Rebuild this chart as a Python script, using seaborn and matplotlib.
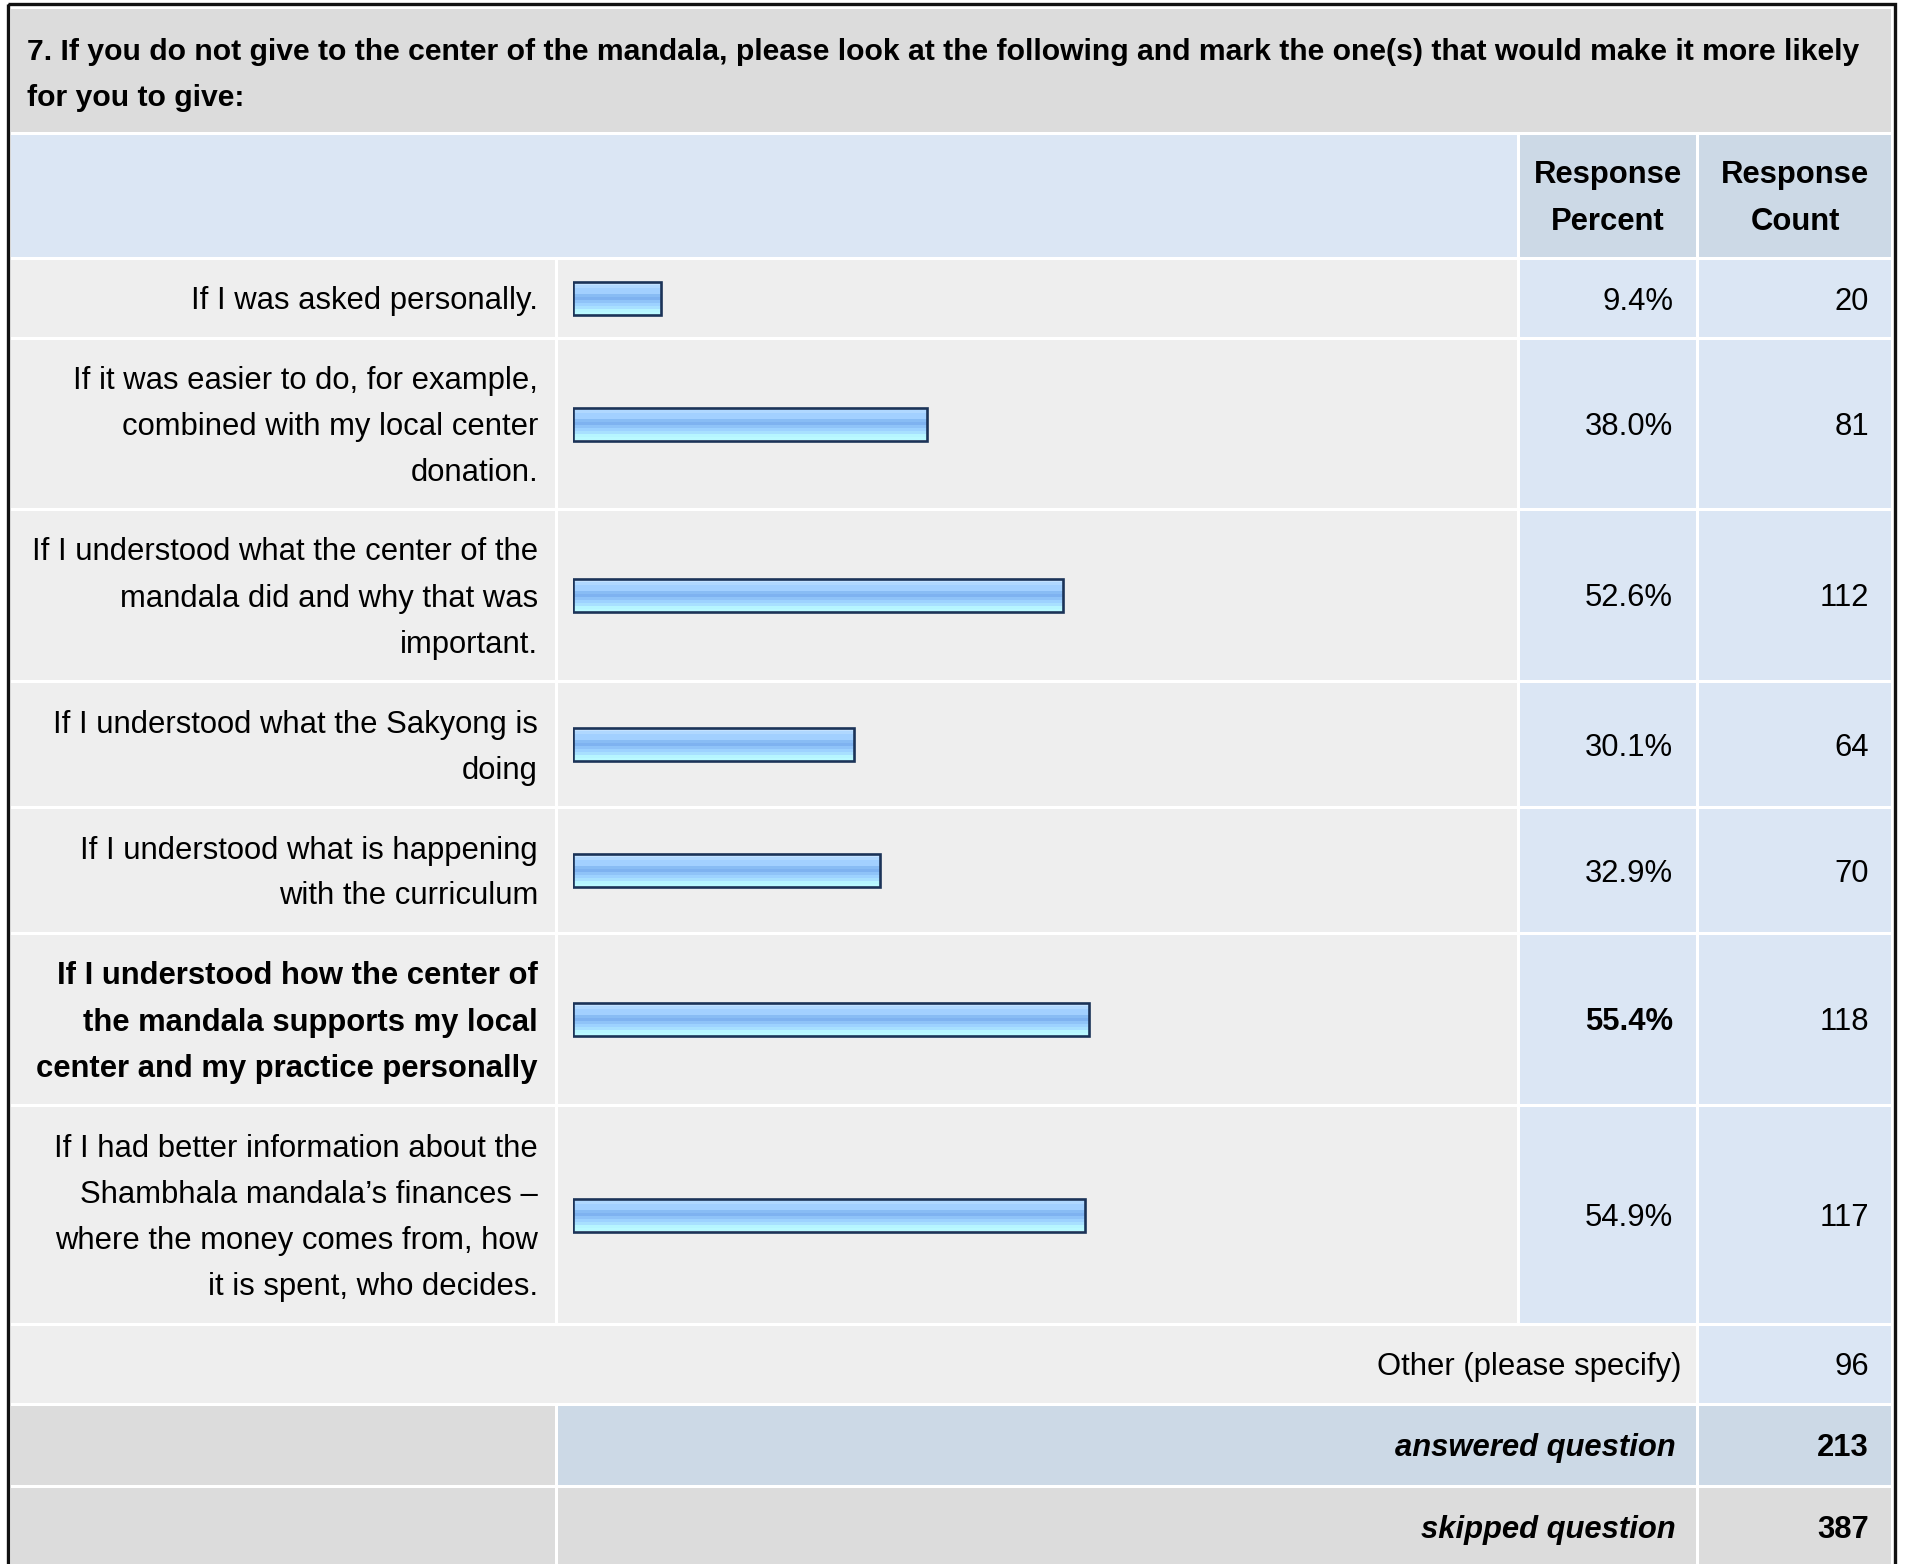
import numpy as np
import pandas as pd
import seaborn as sns
import matplotlib.pyplot as plt
from matplotlib.patches import Rectangle
from matplotlib.colors import to_rgb

question = ["7. If you do not give to the center of the mandala, please look at the following and mark the one(s) that would make it more likely",
            "for you to give:"]
answers = [
    "If I was asked personally.",
    "If it was easier to do, for example,\ncombined with my local center\ndonation.",
    "If I understood what the center of the\nmandala did and why that was\nimportant.",
    "If I understood what the Sakyong is\ndoing",
    "If I understood what is happening\nwith the curriculum",
    "If I understood how the center of\nthe mandala supports my local\ncenter and my practice personally",
    "If I had better information about the\nShambhala mandala\u2019s finances \u2013\nwhere the money comes from, how\nit is spent, who decides.",
]
response_pct = [9.4, 38.0, 52.6, 30.1, 32.9, 55.4, 54.9]
response_count = [20, 81, 112, 64, 70, 118, 117]
other_count = 96
answered_count = 213
skipped_count = 387

# --- layout (pixels) ---
W, H = 1907, 1564
row_edges = [(260, 337), (340, 508), (511, 680), (683, 806), (809, 932), (935, 1104), (1107, 1323)]
col_label = (11, 555)
col_bar = (558, 1517)
col_pct = (1520, 1696)
col_cnt = (1699, 1891)
bar_x0, bar_span = 573, 932
line_h = 46
x_label, x_pct, x_cnt = 538, 1673, 1869

GREY = "#dcdcdc"
ROW = "#eeeeee"
BLUE_L = "#dbe6f4"
BLUE_D = "#ccd9e6"
TXT = "#000000"

plt.rcParams['font.family'] = ['Liberation Sans', 'DejaVu Sans']
fs = 22.3

fig = plt.figure(figsize=(W / 100, H / 100), dpi=100)
bg = fig.add_axes([0, 0, 1, 1])
bg.set_xlim(0, W)
bg.set_ylim(H, 0)
bg.axis('off')


def cell(x0, x1, y0, y1, color):
    bg.add_patch(Rectangle((x0, y0), x1 - x0, y1 - y0, facecolor=color, edgecolor='none', zorder=1))


# title row
cell(col_label[0], col_cnt[1], 9, 132, GREY)
for i, line in enumerate(question):
    bg.text(27, 52 + i * line_h, line, fontsize=21.7, fontweight='bold', color=TXT, va='center', ha='left', zorder=3)

# header row
cell(col_label[0], col_bar[1], 135, 257, BLUE_L)
cell(col_pct[0], col_pct[1], 135, 257, BLUE_D)
cell(col_cnt[0], col_cnt[1], 135, 257, BLUE_D)
for cx, word in [((col_pct[0] + col_pct[1]) / 2, "Percent"), ((col_cnt[0] + col_cnt[1]) / 2, "Count")]:
    bg.text(cx, 175, "Response", fontsize=fs, fontweight='bold', color=TXT, ha='center', va='center', zorder=3)
    bg.text(cx, 222, word, fontsize=fs, fontweight='bold', color=TXT, ha='center', va='center', zorder=3)

# answer rows
best = int(np.argmax(response_pct))
centers = []
for i, (y0, y1) in enumerate(row_edges):
    cy = (y0 + y1) / 2
    centers.append(cy)
    cell(*col_label, y0, y1, ROW)
    cell(*col_bar, y0, y1, ROW)
    cell(*col_pct, y0, y1, BLUE_L)
    cell(*col_cnt, y0, y1, BLUE_L)
    weight = 'bold' if i == best else 'normal'
    lines = answers[i].split("\n")
    top = cy - (len(lines) - 1) * line_h / 2
    for k, line in enumerate(lines):
        bg.text(x_label, top + k * line_h + 3, line, fontsize=fs, fontweight=weight, color=TXT,
                ha='right', va='center', zorder=3)
    bg.text(x_pct, cy + 3, f"{response_pct[i]:.1f}%", fontsize=fs, fontweight=weight, color=TXT,
            ha='right', va='center', zorder=3)
    bg.text(x_cnt, cy + 3, f"{response_count[i]}", fontsize=fs, color=TXT, ha='right', va='center', zorder=3)

# other / answered / skipped rows
cell(col_label[0], col_pct[1], 1326, 1403, ROW)
cell(*col_cnt, 1326, 1403, BLUE_L)
bg.text(1681, 1367, "Other (please specify)", fontsize=fs, color=TXT, ha='right', va='center', zorder=3)
bg.text(x_cnt, 1367, f"{other_count}", fontsize=fs, color=TXT, ha='right', va='center', zorder=3)

cell(*col_label, 1406, 1485, GREY)
cell(col_bar[0], col_pct[1], 1406, 1485, BLUE_D)
cell(*col_cnt, 1406, 1485, BLUE_D)
bg.text(1676, 1448, "answered question", fontsize=fs, fontweight='bold', fontstyle='italic', color=TXT,
        ha='right', va='center', zorder=3)
bg.text(x_cnt, 1448, f"{answered_count}", fontsize=fs, fontweight='bold', color=TXT, ha='right', va='center', zorder=3)

cell(*col_label, 1488, 1575, GREY)
cell(col_bar[0], col_pct[1], 1488, 1575, GREY)
cell(*col_cnt, 1488, 1575, GREY)
bg.text(1676, 1530, "skipped question", fontsize=fs, fontweight='bold', fontstyle='italic', color=TXT,
        ha='right', va='center', zorder=3)
bg.text(x_cnt, 1530, f"{skipped_count}", fontsize=fs, fontweight='bold', color=TXT, ha='right', va='center', zorder=3)

# outer frame
bg.add_patch(Rectangle((7.5, 3.5), 1887, 1580, facecolor='none', edgecolor='#111111', linewidth=2.4, zorder=4))

# --- bars ---
bax = fig.add_axes([bar_x0 / W, 0, bar_span / W, 1])
bax.patch.set_alpha(0)
df = pd.DataFrame({"pct": response_pct, "pos": centers})
sns.barplot(data=df, x="pct", y="pos", orient='h', native_scale=True, ax=bax,
            color="#9ccbff", edgecolor="#1b3358", linewidth=1.9, saturation=1)

stripes = ["#c4e2ff", "#b0d8ff", "#a2d0ff", "#a2d0ff", "#88bcf4", "#7eb2f0", "#8fc3f8",
           "#9dd2ff", "#a8e0ff", "#b6f5ff", "#baf9ff"]
grad = np.array([to_rgb(c) for c in stripes])[:, None, :]
bar_h = 33
for p in bax.patches:
    cy = p.get_y() + p.get_height() / 2
    p.set_y(cy - bar_h / 2)
    p.set_height(bar_h)
    p.set_facecolor('none')
    p.set_zorder(3)
    im = bax.imshow(grad, extent=[0, p.get_width(), cy + bar_h / 2, cy - bar_h / 2],
                    aspect='auto', interpolation='nearest', zorder=2)
    im.set_clip_path(p)

bax.set_xlim(0, 100)
bax.set_ylim(H, 0)
bax.axis('off')

fig.savefig("out.png", dpi=100, facecolor='white')
